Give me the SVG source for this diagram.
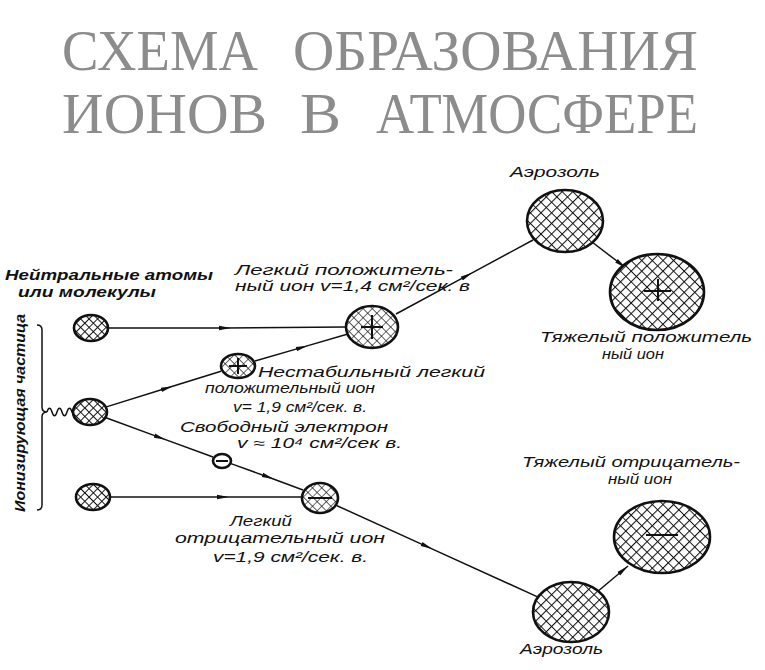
<svg xmlns="http://www.w3.org/2000/svg" width="765" height="670" viewBox="0 0 765 670">
<style>
.title{font-family:"Liberation Serif","DejaVu Serif",serif;font-size:58px;fill:#8c8c8c}
.lbl{font-family:"Liberation Sans","DejaVu Sans",sans-serif;font-style:italic;font-size:14px;fill:#111}
.node{stroke:#111;stroke-width:2.6}
.sign{stroke:#111;stroke-width:2;fill:none}
.conn{stroke:#111;stroke-width:1.5;fill:none}
</style>
<defs>
<pattern id="hs" patternUnits="userSpaceOnUse" width="6" height="6" patternTransform="rotate(45)">
<rect width="6" height="6" fill="#fff"/>
<path d="M0,0H6M0,0V6" stroke="#111" stroke-width="1.9"/>
</pattern>
<pattern id="hl" patternUnits="userSpaceOnUse" width="7.5" height="7.5" patternTransform="rotate(45)">
<rect width="7.5" height="7.5" fill="#fff"/>
<path d="M0,0H7.5M0,0V7.5" stroke="#111" stroke-width="2.1"/>
</pattern>
<pattern id="hm" patternUnits="userSpaceOnUse" width="6.5" height="6.5" patternTransform="rotate(45)">
<rect width="6.5" height="6.5" fill="#fff"/>
<path d="M0,0H6.5M0,0V6.5" stroke="#111" stroke-width="1.2"/>
</pattern>
<marker id="arr" viewBox="0 0 12 6" refX="6" refY="3" markerWidth="12" markerHeight="6" markerUnits="userSpaceOnUse" orient="auto">
<path d="M0,0.8L12,3L0,5.2Z" fill="#111"/>
</marker>
<marker id="arrEnd" viewBox="0 0 12 6" refX="12" refY="3" markerWidth="12" markerHeight="6" markerUnits="userSpaceOnUse" orient="auto">
<path d="M0,0.8L12,3L0,5.2Z" fill="#111"/>
</marker>
</defs>
<rect width="765" height="670" fill="#fff"/>

<g id="title">
<text class="title" x="62" y="70" textLength="196" lengthAdjust="spacingAndGlyphs">СХЕМА</text>
<text class="title" x="293" y="70" textLength="405" lengthAdjust="spacingAndGlyphs">ОБРАЗОВАНИЯ</text>
<text class="title" x="62" y="133" textLength="205" lengthAdjust="spacingAndGlyphs">ИОНОВ</text>
<text class="title" x="300" y="133" textLength="41" lengthAdjust="spacingAndGlyphs">В</text>
<text class="title" x="376" y="133" textLength="322" lengthAdjust="spacingAndGlyphs">АТМОСФЕРЕ</text>
</g>

<g id="connectors">
<path class="conn" d="M108,328 L225,328 L345,327" marker-mid="url(#arr)"/>
<path class="conn" d="M104,407.6 L167,388 L221,371.3" marker-mid="url(#arr)"/>
<path class="conn" d="M255,361 L302,347.4 L347,334.3" marker-mid="url(#arr)"/>
<path class="conn" d="M396,314 L467,275.6 L533,240" marker-mid="url(#arr)"/>
<path class="conn" d="M592,242 L626,268" marker-end="url(#arrEnd)"/>
<path class="conn" d="M104,417 L160,437.6 L213,457" marker-mid="url(#arr)"/>
<path class="conn" d="M231,463.6 L268,477 L303,490" marker-mid="url(#arr)"/>
<path class="conn" d="M110,497 L223,497 L302,497" marker-mid="url(#arr)"/>
<path class="conn" d="M337,505.7 L427,546.6 L537,596.6" marker-mid="url(#arr)"/>
<path class="conn" d="M597,592 L628,566" marker-end="url(#arrEnd)"/>
<path class="conn" d="M37,325 Q42,325 42,330 L42,407 Q42,412 47,412 Q42,412 42,417 L42,505 Q42,510 37,510" stroke-width="2"/>
<path class="conn" d="M47,412 c1.5,-5 3.5,-5 5,0 c1.5,5 3.5,5 5,0 c1.5,-5 3.5,-5 5,0 c1.5,5 3.5,5 5,0 c1.5,-5 3.5,-5 5,0 L76,412" stroke-width="1.8"/>
</g>

<g id="ionizing-label">
<text class="lbl" transform="translate(25,413) rotate(-90)" text-anchor="middle" textLength="198" lengthAdjust="spacingAndGlyphs" font-weight="bold" font-size="15">Ионизирующая частица</text>
</g>

<g id="neutral-1">
<ellipse class="node" cx="91" cy="328" rx="17" ry="13" fill="url(#hs)"/>
<text class="lbl" x="5" y="280" textLength="208" lengthAdjust="spacingAndGlyphs" font-weight="bold" font-size="15">Нейтральные атомы</text>
<text class="lbl" x="18" y="297" textLength="138" lengthAdjust="spacingAndGlyphs" font-weight="bold" font-size="15">или молекулы</text>
</g>

<g id="neutral-2">
<ellipse class="node" cx="90" cy="412" rx="17" ry="13" fill="url(#hs)"/>
</g>

<g id="neutral-3">
<ellipse class="node" cx="93" cy="497" rx="17" ry="13" fill="url(#hs)"/>
</g>

<g id="unstable-ion">
<ellipse class="node" cx="238" cy="366" rx="17" ry="12" fill="url(#hm)"/>
<path class="sign" d="M229,366H247M238,358V374"/>
<text class="lbl" x="258" y="377" textLength="227" lengthAdjust="spacingAndGlyphs">Нестабильный легкий</text>
<text class="lbl" x="205" y="393" textLength="170" lengthAdjust="spacingAndGlyphs">положительный ион</text>
<text class="lbl" x="233" y="412" textLength="134" lengthAdjust="spacingAndGlyphs">v= 1,9 см²/сек. в.</text>
</g>

<g id="light-positive-ion">
<ellipse class="node" cx="372" cy="327" rx="26" ry="21" fill="url(#hm)"/>
<path class="sign" d="M361,327H383M372,315V339"/>
<text class="lbl" x="235" y="275" textLength="218" lengthAdjust="spacingAndGlyphs">Легкий положитель-</text>
<text class="lbl" x="235" y="291" textLength="235" lengthAdjust="spacingAndGlyphs">ный ион v=1,4 см²/сек. в</text>
</g>

<g id="free-electron">
<ellipse class="node" cx="222" cy="461" rx="9" ry="7" fill="#fff" stroke-width="2"/>
<path class="sign" d="M216,461H228" stroke-width="1.6"/>
<text class="lbl" x="180" y="432" textLength="208" lengthAdjust="spacingAndGlyphs">Свободный электрон</text>
<text class="lbl" x="237" y="448" textLength="165" lengthAdjust="spacingAndGlyphs">v ≈ 10⁴ см²/сек в.</text>
</g>

<g id="light-negative-ion">
<ellipse class="node" cx="320" cy="498" rx="18" ry="15" fill="url(#hm)"/>
<path class="sign" d="M308,498H332"/>
<text class="lbl" x="230" y="526" textLength="62" lengthAdjust="spacingAndGlyphs">Легкий</text>
<text class="lbl" x="175" y="543" textLength="210" lengthAdjust="spacingAndGlyphs">отрицательный ион</text>
<text class="lbl" x="213" y="562" textLength="155" lengthAdjust="spacingAndGlyphs">v=1,9 см²/сек. в.</text>
</g>

<g id="aerosol-top">
<ellipse class="node" cx="565" cy="221" rx="38" ry="31" fill="url(#hl)"/>
<text class="lbl" x="510" y="177" textLength="90" lengthAdjust="spacingAndGlyphs">Аэрозоль</text>
</g>

<g id="heavy-positive-ion">
<ellipse class="node" cx="657" cy="292" rx="47" ry="38" fill="url(#hl)"/>
<path class="sign" d="M644,291H671M658,279V301"/>
<text class="lbl" x="540" y="342" textLength="212" lengthAdjust="spacingAndGlyphs">Тяжелый положитель</text>
<text class="lbl" x="602" y="359" textLength="62" lengthAdjust="spacingAndGlyphs">ный ион</text>
</g>

<g id="aerosol-bottom">
<ellipse class="node" cx="571" cy="612" rx="38" ry="30" fill="url(#hl)"/>
<text class="lbl" x="520" y="654" textLength="83" lengthAdjust="spacingAndGlyphs">Аэрозоль</text>
</g>

<g id="heavy-negative-ion">
<ellipse class="node" cx="662" cy="537" rx="48" ry="36" fill="url(#hl)"/>
<path class="sign" d="M646,535H678"/>
<text class="lbl" x="522" y="467" textLength="218" lengthAdjust="spacingAndGlyphs">Тяжелый отрицатель-</text>
<text class="lbl" x="608" y="484" textLength="64" lengthAdjust="spacingAndGlyphs">ный ион</text>
</g>
</svg>
